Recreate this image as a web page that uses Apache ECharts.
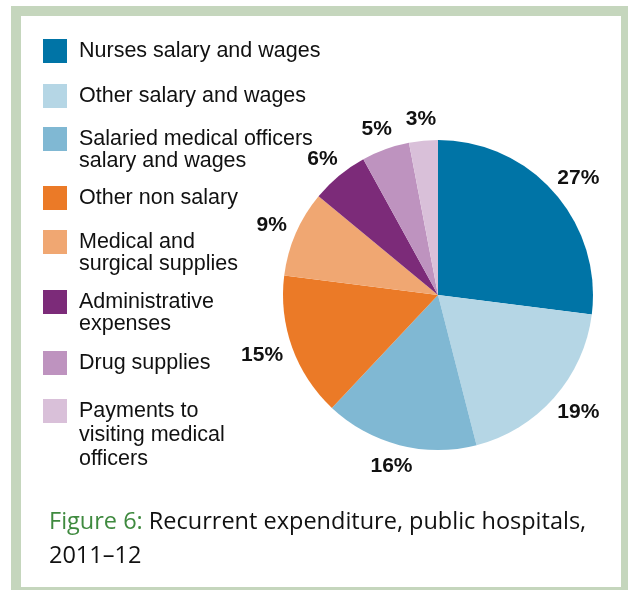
<!DOCTYPE html>
<html>
<head>
<meta charset="utf-8">
<title>Recurrent expenditure, public hospitals, 2011–12</title>
<script src="https://cdn.jsdelivr.net/npm/echarts@6/dist/echarts.min.js"></script>
<style>
	html, body { margin: 0; padding: 0; background: #fff; }
	#chart { width: 628px; height: 590px; }
</style>
</head>
<body>
<div id="chart"></div>
<script>
// categories, clockwise from 12 o'clock
var categories = [
	'Nurses salary and wages',
	'Other salary and wages',
	'Salaried medical officers salary and wages',
	'Other non salary',
	'Medical and surgical supplies',
	'Administrative expenses',
	'Drug supplies',
	'Payments to visiting medical officers'
];
// legend text as it is broken in the figure
var legendLines = [
	['Nurses salary and wages'],
	['Other salary and wages'],
	['Salaried medical officers', 'salary and wages'],
	['Other non salary'],
	['Medical and', 'surgical supplies'],
	['Administrative', 'expenses'],
	['Drug supplies'],
	['Payments to', 'visiting medical', 'officers']
];
// share of recurrent expenditure (%)
var shares = [27, 19, 16, 15, 9, 6, 5, 3];

var colors = ['#0074a6', '#b5d6e5', '#80b8d3', '#eb7a27', '#f0a772', '#7c2b79', '#be93bf', '#d9c0d9'];

var CX = 438, CY = 295, R = 155;

/**
 * one legend per item, so each row can sit where it does in the figure
 */
function buildLegends(){
	var iconTops = [39, 84, 127, 186, 230, 290, 351, 399];
	var list = [];
	for (var i = 0; i < categories.length; i++) {
		var n = legendLines[i].length;
		var lh = n > 2 ? 24 : 22;
		// text is centred on the icon: blank lines on top put the first line level with it
		var text = new Array(n).join('\n') + legendLines[i].join('\n');
		var boxTop = Math.min(0, 12 - (2 * n - 1) * lh / 2);
		list.push({
			data: [categories[i]],
			left: 43,
			top: iconTops[i] + boxTop,
			padding: 0,
			orient: 'vertical',
			icon: 'rect',
			itemWidth: 24,
			itemHeight: 24,
			selectedMode: false,
			formatter: (function(t){
				return function(){ return t; };
			})(text),
			textStyle: {
				fontFamily: 'Liberation Sans, Arial, sans-serif',
				fontSize: 21.5,
				color: '#111',
				lineHeight: lh,
				padding: [0, 0, 0, 7]
			}
		});
	}
	return list;
}

//外侧标签：沿扇区中线放在饼外
function placeLabel(params){
	var total = 0, before = 0;
	for (var i = 0; i < shares.length; i++) {
		total += shares[i];
		if (i < params.dataIndex) before += shares[i];
	}
	var mid = (before + shares[params.dataIndex] / 2) / total;
	var theta = Math.PI / 2 - mid * Math.PI * 2;
	var c = Math.cos(theta), s = Math.sin(theta);
	var w = params.labelRect.width, h = params.labelRect.height;
	var d = R + 11;
	return {
		x: CX + d * c + w / 2 * c,
		y: CY - d * s - h / 2 * s,
		align: 'center',
		verticalAlign: 'middle'
	};
}

var pieData = [];
for (var i = 0; i < categories.length; i++) {
	pieData.push({ name: categories[i], value: shares[i] });
}

var myChart = echarts.init(document.getElementById('chart'), null, { renderer: 'canvas' });
var option = {
	animation: false,
	backgroundColor: '#fff',
	color: colors,
	title: {
		left: 49,
		top: 505,
		padding: 0,
		text: '{g|Figure 6:} Recurrent expenditure, public hospitals,\n2011–12',
		textStyle: {
			fontFamily: 'Open Sans, sans-serif',
			fontWeight: 'normal',
			fontSize: 23.5,
			lineHeight: 34,
			color: '#111',
			rich: {
				g: {
					fontFamily: 'Open Sans, sans-serif',
					fontSize: 23.5,
					lineHeight: 34,
					color: '#3f8a3f'
				}
			}
		}
	},
	legend: buildLegends(),
	graphic: [{
		type: 'rect',
		silent: true,
		shape: { x: 16, y: 11, width: 610, height: 581 },
		style: { fill: null, stroke: '#c5d6bd', lineWidth: 10 }
	}],
	series: [{
		type: 'pie',
		center: [CX, CY],
		radius: [0, R],
		startAngle: 90,
		clockwise: true,
		avoidLabelOverlap: false,
		itemStyle: { borderWidth: 0 },
		label: {
			show: true,
			position: 'outside',
			formatter: '{c}%',
			fontFamily: 'Liberation Sans, Arial, sans-serif',
			fontWeight: 'bold',
			fontSize: 21,
			color: '#111'
		},
		labelLine: { show: false },
		labelLayout: placeLabel,
		emphasis: { disabled: true },
		data: pieData
	}]
};
myChart.setOption(option);
</script>
</body>
</html>
